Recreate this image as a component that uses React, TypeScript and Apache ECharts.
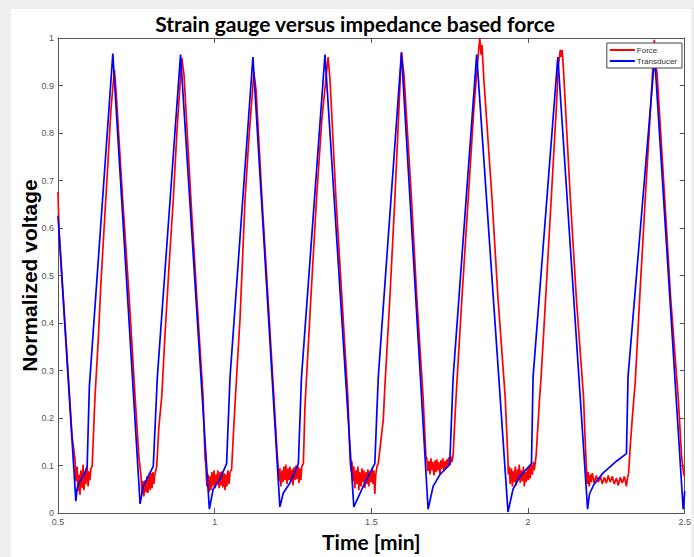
import React, { useEffect, useRef } from "react";
import * as echarts from "echarts";

const titleText = "Strain gauge versus impedance based force";
const xName = "Time [min]";
const yName = "Normalized voltage";
const seriesNames = ["Force", "Transducer"];

// [time (min), normalized voltage]
const transducer: number[][] = [
  [0.500, 0.626], [0.557, 0.025], [0.561, 0.052], [0.570, 0.067], [0.583, 0.081], [0.593, 0.098], [0.600, 0.265], [0.675, 0.967],
  [0.762, 0.019], [0.772, 0.056], [0.793, 0.084], [0.804, 0.098], [0.817, 0.286], [0.891, 0.965],
  [0.983, 0.008], [0.995, 0.050], [1.017, 0.071], [1.038, 0.104], [1.049, 0.286], [1.122, 0.960],
  [1.208, 0.013], [1.219, 0.042], [1.240, 0.063], [1.267, 0.104], [1.277, 0.286], [1.352, 0.965],
  [1.444, 0.013], [1.474, 0.056], [1.495, 0.084], [1.511, 0.104], [1.522, 0.286], [1.596, 0.969],
  [1.681, 0.008], [1.697, 0.056], [1.719, 0.081], [1.750, 0.102], [1.761, 0.286], [1.836, 0.965],
  [1.936, 0.002], [1.952, 0.050], [1.974, 0.077], [2.011, 0.104], [2.016, 0.286], [2.095, 0.960],
  [2.190, 0.008], [2.196, 0.040], [2.210, 0.060], [2.239, 0.084], [2.282, 0.109], [2.314, 0.125], [2.319, 0.286], [2.404, 0.960],
  [2.495, 0.008], [2.500, 0.046],
];

const force: number[][] = [
  [0.500, 0.676], [0.503, 0.600], [0.505, 0.580], [0.513, 0.495], [0.529, 0.328], [0.545, 0.161],
  [0.554, 0.115], [0.557, 0.067], [0.561, 0.098], [0.564, 0.046], [0.567, 0.081], [0.570, 0.038], [0.573, 0.090], [0.577, 0.052], [0.580, 0.102], [0.583, 0.048], [0.586, 0.086], [0.589, 0.061], [0.593, 0.098], [0.596, 0.056], [0.599, 0.088], [0.602, 0.069], [0.605, 0.094], [0.609, 0.098],
  [0.618, 0.244], [0.628, 0.359], [0.637, 0.484], [0.647, 0.599], [0.660, 0.745], [0.669, 0.850], [0.680, 0.933],
  [0.685, 0.891], [0.706, 0.664], [0.727, 0.455], [0.746, 0.244], [0.758, 0.119],
  [0.765, 0.077], [0.768, 0.040], [0.771, 0.067], [0.774, 0.035], [0.778, 0.069], [0.781, 0.044], [0.784, 0.077], [0.787, 0.042], [0.790, 0.081], [0.794, 0.048], [0.797, 0.084], [0.800, 0.052], [0.803, 0.086], [0.806, 0.061], [0.809, 0.081], [0.815, 0.098],
  [0.822, 0.182], [0.831, 0.244], [0.841, 0.370], [0.854, 0.516], [0.868, 0.662], [0.880, 0.808], [0.895, 0.958],
  [0.902, 0.923], [0.924, 0.662], [0.943, 0.453], [0.963, 0.244], [0.969, 0.119],
  [0.972, 0.098], [0.975, 0.056], [0.979, 0.081], [0.982, 0.044], [0.985, 0.077], [0.988, 0.048], [0.991, 0.086], [0.994, 0.056], [0.998, 0.090], [1.001, 0.052], [1.004, 0.081], [1.007, 0.061], [1.010, 0.090], [1.014, 0.052], [1.017, 0.086], [1.020, 0.058], [1.023, 0.088], [1.026, 0.054], [1.030, 0.084], [1.033, 0.048], [1.036, 0.081], [1.039, 0.056], [1.042, 0.090], [1.046, 0.061], [1.049, 0.086], [1.054, 0.092],
  [1.061, 0.182], [1.068, 0.265], [1.081, 0.411], [1.097, 0.662], [1.109, 0.787], [1.125, 0.927],
  [1.132, 0.891], [1.151, 0.662], [1.170, 0.453], [1.189, 0.244], [1.199, 0.129],
  [1.202, 0.102], [1.205, 0.067], [1.208, 0.094], [1.211, 0.056], [1.215, 0.090], [1.218, 0.065], [1.221, 0.098], [1.224, 0.069], [1.227, 0.102], [1.231, 0.061], [1.234, 0.094], [1.237, 0.069], [1.240, 0.098], [1.243, 0.065], [1.247, 0.092], [1.250, 0.058], [1.253, 0.096], [1.256, 0.069], [1.259, 0.100], [1.262, 0.071], [1.266, 0.098], [1.269, 0.063], [1.272, 0.094], [1.275, 0.069], [1.278, 0.098], [1.283, 0.104],
  [1.288, 0.223], [1.294, 0.296], [1.307, 0.453], [1.325, 0.662], [1.342, 0.829], [1.362, 0.960],
  [1.368, 0.912], [1.387, 0.662], [1.406, 0.453], [1.425, 0.244], [1.432, 0.113],
  [1.435, 0.088], [1.438, 0.109], [1.441, 0.067], [1.444, 0.098], [1.447, 0.052], [1.451, 0.090], [1.454, 0.061], [1.457, 0.098], [1.460, 0.048], [1.463, 0.086], [1.467, 0.056], [1.470, 0.094], [1.473, 0.065], [1.476, 0.090], [1.479, 0.052], [1.483, 0.086], [1.486, 0.061], [1.489, 0.092], [1.492, 0.056], [1.495, 0.088], [1.499, 0.065], [1.502, 0.094], [1.505, 0.061], [1.508, 0.090], [1.511, 0.040], [1.514, 0.081], [1.518, 0.098], [1.522, 0.104],
  [1.538, 0.196], [1.543, 0.265], [1.559, 0.453], [1.575, 0.662], [1.585, 0.808], [1.596, 0.971],
  [1.604, 0.923], [1.628, 0.662], [1.645, 0.453], [1.665, 0.244], [1.674, 0.119],
  [1.677, 0.115], [1.680, 0.088], [1.684, 0.109], [1.687, 0.081], [1.690, 0.115], [1.693, 0.090], [1.696, 0.107], [1.700, 0.079], [1.703, 0.111], [1.706, 0.086], [1.709, 0.113], [1.712, 0.090], [1.715, 0.107], [1.719, 0.081], [1.722, 0.111], [1.725, 0.094], [1.728, 0.115], [1.731, 0.088], [1.735, 0.109], [1.738, 0.094], [1.741, 0.113], [1.744, 0.098], [1.747, 0.117], [1.751, 0.102], [1.754, 0.119], [1.757, 0.107], [1.761, 0.123],
  [1.767, 0.203], [1.773, 0.276], [1.789, 0.453], [1.809, 0.662], [1.827, 0.850], [1.837, 0.933], [1.843, 0.979], [1.846, 1.000], [1.850, 0.965], [1.853, 0.985], [1.859, 0.912],
  [1.885, 0.662], [1.904, 0.453], [1.927, 0.244], [1.936, 0.109],
  [1.937, 0.081], [1.940, 0.098], [1.943, 0.061], [1.947, 0.094], [1.950, 0.056], [1.953, 0.088], [1.956, 0.065], [1.959, 0.098], [1.962, 0.058], [1.966, 0.092], [1.969, 0.069], [1.972, 0.102], [1.975, 0.063], [1.978, 0.090], [1.982, 0.067], [1.985, 0.098], [1.988, 0.056], [1.991, 0.086], [1.994, 0.065], [1.998, 0.094], [2.001, 0.069], [2.004, 0.098], [2.007, 0.073], [2.010, 0.102], [2.014, 0.081], [2.017, 0.107], [2.020, 0.090], [2.026, 0.123],
  [2.036, 0.234], [2.042, 0.290], [2.058, 0.474], [2.074, 0.662], [2.090, 0.850], [2.097, 0.944], [2.103, 0.975], [2.106, 0.960], [2.109, 0.975], [2.113, 0.933],
  [2.135, 0.662], [2.154, 0.453], [2.177, 0.244], [2.183, 0.140], [2.186, 0.098],
  [2.189, 0.061], [2.192, 0.086], [2.195, 0.056], [2.199, 0.081], [2.202, 0.065], [2.205, 0.084], [2.211, 0.063], [2.218, 0.079], [2.224, 0.065], [2.231, 0.077], [2.237, 0.061], [2.243, 0.075], [2.250, 0.063], [2.256, 0.079], [2.262, 0.065], [2.269, 0.077], [2.275, 0.061], [2.282, 0.073], [2.288, 0.058], [2.294, 0.075], [2.301, 0.063], [2.307, 0.077], [2.314, 0.056], [2.317, 0.073], [2.321, 0.084],
  [2.326, 0.140], [2.333, 0.203], [2.342, 0.276], [2.358, 0.474], [2.374, 0.662], [2.387, 0.808], [2.396, 0.912], [2.403, 0.996], [2.406, 0.954], [2.412, 0.923],
  [2.436, 0.662], [2.455, 0.453], [2.479, 0.244], [2.490, 0.119], [2.497, 0.081], [2.500, 0.077],
];

const fmt = (v: number) => String(parseFloat(v.toFixed(2)));

export default function App() {
  const ref = useRef<HTMLDivElement>(null);
  useEffect(() => {
    if (!ref.current) return;
    const chart = echarts.init(ref.current, null, { renderer: "svg" });
    const axisLine = { show: true, onZero: false, lineStyle: { color: "#555", width: 1 } };
    const axisTick = { show: true, inside: true, length: 5, lineStyle: { color: "#555", width: 1 } };
    const tickFont = { color: "#555", fontSize: 9, fontFamily: "Liberation Sans" };
    chart.setOption({
      animation: false,
      backgroundColor: "#efefef",
      graphic: [
        { type: "rect", z: -100, shape: { x: 11, y: 9, width: 680, height: 560 }, style: { fill: "#ffffff" } },
      ],
      title: {
        text: titleText,
        left: 350,
        textAlign: "center",
        top: 8,
        textStyle: { fontFamily: "Lato", fontWeight: "bold", fontSize: 21, color: "#000" },
      },
      legend: {
        data: seriesNames,
        orient: "vertical",
        right: 12,
        top: 43,
        backgroundColor: "#fff",
        borderColor: "#444",
        borderWidth: 1,
        borderRadius: 0,
        padding: [3, 5, 3, 3],
        itemGap: 3,
        itemWidth: 25,
        itemHeight: 2,
        icon: "rect",
        textStyle: { fontSize: 8, color: "#333", fontFamily: "Liberation Sans", padding: [0, 0, 0, -3] },
      },
      grid: { left: 58, top: 38, right: 9, bottom: 40, containLabel: false },
      xAxis: [
        {
          type: "value",
          min: 0.5,
          max: 2.5,
          interval: 0.5,
          position: "bottom",
          axisLine,
          axisTick,
          splitLine: { show: false },
          axisLabel: { ...tickFont, margin: 4, showMinLabel: true, showMaxLabel: true, formatter: fmt },
          name: xName,
          nameLocation: "middle",
          nameGap: 18,
          nameMoveOverlap: false,
          nameTextStyle: { fontFamily: "Lato", fontWeight: "bold", fontSize: 21, color: "#000" },
        },
        {
          type: "value",
          min: 0.5,
          max: 2.5,
          interval: 0.5,
          position: "top",
          axisLine,
          axisTick,
          splitLine: { show: false },
          axisLabel: { show: false },
        },
      ],
      yAxis: [
        {
          type: "value",
          min: 0,
          max: 1,
          interval: 0.1,
          position: "left",
          axisLine,
          axisTick,
          splitLine: { show: false },
          axisLabel: { ...tickFont, margin: 4, showMinLabel: true, showMaxLabel: true, formatter: fmt },
          name: yName,
          nameLocation: "middle",
          nameGap: 18,
          nameMoveOverlap: false,
          nameTextStyle: { fontFamily: "Liberation Sans", fontWeight: "bold", fontSize: 21, color: "#000" },
        },
        {
          type: "value",
          min: 0,
          max: 1,
          interval: 0.1,
          position: "right",
          axisLine,
          axisTick,
          splitLine: { show: false },
          axisLabel: { show: false },
        },
      ],
      series: [
        {
          name: seriesNames[0],
          type: "line",
          data: force,
          showSymbol: false,
          symbol: "none",
          color: "#ff0000",
          lineStyle: { color: "#ff0000", width: 1.7 },
          z: 2,
        },
        {
          name: seriesNames[1],
          type: "line",
          data: transducer,
          showSymbol: false,
          symbol: "none",
          color: "#0000ff",
          lineStyle: { color: "#0000ff", width: 1.7 },
          z: 3,
        },
      ],
    });
    return () => chart.dispose();
  }, []);
  return (
    <div
      ref={ref}
      style={{ position: "absolute", left: 0, top: 0, width: 694, height: 557 }}
    />
  );
}
